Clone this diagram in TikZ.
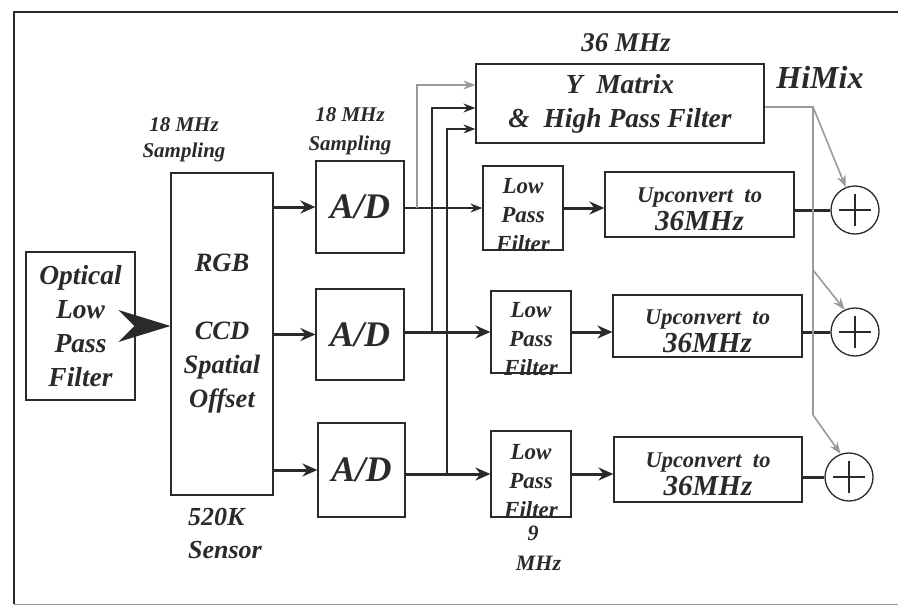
\documentclass[tikz,border=0pt]{standalone}
\usepackage{fontspec}
\setmainfont{Liberation Serif}
\usetikzlibrary{arrows.meta}
\definecolor{ink}{HTML}{2A2A2A}
\definecolor{grayline}{HTML}{9A9A9A}
\begin{document}
\begin{tikzpicture}[x=1pt,y=-1pt,
  every node/.style={text=ink},
  box/.style={draw=ink,line width=1.2pt,inner sep=0pt,align=center},
  bi/.style={font=\bfseries\itshape\fontsize{#1}{#1}\selectfont},
  thk/.style={draw=ink,line width=3pt},
  thn/.style={draw=ink,line width=1.5pt},
  gry/.style={draw=grayline,line width=1.6pt},
  tipL/.style={-{Stealth[length=15pt,width=13pt,inset=5pt]}},
  tipS/.style={-{Stealth[length=12pt,width=9pt,inset=4pt]}},
  sumnode/.style={circle,draw=ink,line width=1.3pt,minimum size=48pt,inner sep=0pt,
    path picture={\draw[ink,line width=2.4pt]
      ([xshift=-16pt]path picture bounding box.center) -- ([xshift=16pt]path picture bounding box.center)
      ([yshift=-16pt]path picture bounding box.center) -- ([yshift=16pt]path picture bounding box.center);}}
]
\useasboundingbox (0,0) rectangle (898,608);
% frame
\draw[ink,line width=1.2pt] (898,12) -- (14,12) -- (14,604);
\draw[grayline,line width=0.8pt] (14,604) -- (898,604);

% boxes
\node[box,minimum width=109pt,minimum height=148pt,
  font=\bfseries\itshape\fontsize{27.5}{34}\selectfont] (opt) at (80.5,326)
  {Optical\\Low\\Pass\\Filter};
\node[box,minimum width=102pt,minimum height=322pt,
  font=\bfseries\itshape\fontsize{26.5}{34}\selectfont] (rgb) at (222,334)
  {RGB\\[34pt]CCD\\Spatial\\Offset};
\node[box,minimum width=88pt,minimum height=92pt,bi=36] (ad1) at (360,207) {A/D};
\node[box,minimum width=88pt,minimum height=91pt,bi=36] (ad2) at (360,334.5) {A/D};
\node[box,minimum width=87pt,minimum height=94pt,bi=36] (ad3) at (361.5,470) {A/D};

\node[box,minimum width=288pt,minimum height=79pt,
  font=\bfseries\itshape\fontsize{27.5}{34}\selectfont] (ym) at (620,103.5)
  {Y\ \ Matrix\\\&\ \ High Pass Filter};

\node[box,minimum width=80pt,minimum height=84pt] (lpf1) at (523,208) {};
\node[box,minimum width=80pt,minimum height=82pt] (lpf2) at (531,332) {};
\node[box,minimum width=80pt,minimum height=86pt] (lpf3) at (531,474) {};
\foreach \n in {lpf1,lpf2,lpf3}
  \node[align=center,font=\bfseries\itshape\fontsize{23}{29}\selectfont] at ([yshift=-7pt]\n.center) {Low\\Pass\\Filter};

\node[box,minimum width=189pt,minimum height=65pt] (uc1) at (699.5,204.5) {};
\node[box,minimum width=189pt,minimum height=62pt] (uc2) at (707.5,326) {};
\node[box,minimum width=188pt,minimum height=65pt] (uc3) at (708,469.5) {};
\foreach \n in {uc1,uc2,uc3}
  \node[align=center,font=\bfseries\itshape] at ([yshift=-5pt]\n.center)
  {\fontsize{22.5}{22}\selectfont Upconvert\ \ to\\[3pt]\fontsize{29}{29}\selectfont 36MHz};

\node[sumnode] (s1) at (855,210) {};
\node[sumnode] (s2) at (855,332) {};
\node[sumnode] (s3) at (849,477) {};

% labels
\node[align=center,font=\bfseries\itshape\fontsize{21}{26}\selectfont] (l1) at (184,140) {18 MHz\\Sampling};
\node[align=center,font=\bfseries\itshape\fontsize{21}{29}\selectfont] (l2) at (350,131) {18 MHz\\Sampling};
\node[bi=27] (l3) at (626,43) {36 MHz};
\node[bi=32] (l4) at (820,77) {HiMix};
\node[align=left,font=\bfseries\itshape\fontsize{26}{33}\selectfont] (l5) at (225,533) {520K\\Sensor};
\node[align=center,font=\bfseries\itshape\fontsize{22}{30}\selectfont] (l6) at (533,548) {9\\\ \ MHz};

% optical -> rgb big arrow
\fill[ink] (rgb.west |- opt.east) -- ++(-52,-16) -- ++(16,16) -- ++(-16,16) -- cycle;

% rgb -> A/D
\draw[thk,tipL] (rgb.east |- ad1.west) -- (ad1.west);
\draw[thk,tipL] (rgb.east |- ad2.west) -- (ad2.west);
\draw[thk,tipL] (rgb.east |- ad3.west) -- (ad3.west);

% A/D -> LPF
\draw[thn,tipS] (ad1.east |- lpf1.west) -- (lpf1.west);
\draw[thk,tipL] (ad2.east |- lpf2.west) -- (lpf2.west);
\draw[thk,tipL] (ad3.east |- lpf3.west) -- (lpf3.west);

% taps to Y matrix
\coordinate (j1) at (417,208);
\coordinate (j2) at (432,332);
\coordinate (j3) at (447,474);
\draw[gry,tipS] (j1) |- ([yshift=18.5pt]ym.west);
\draw[thn,tipS] (j2) |- ([yshift=-4.5pt]ym.west);
\draw[thn,tipS] (j3) |- ([yshift=-25.5pt]ym.west);

% LPF -> UC
\draw[thk,tipL] (lpf1.east) -- (lpf1.east -| uc1.west);
\draw[thk,tipL] (lpf2.east) -- (lpf2.east -| uc2.west);
\draw[thk,tipL] (lpf3.east) -- (lpf3.east -| uc3.west);

% UC -> sums
\draw[thk] (uc1.east |- s1.west) -- (s1.west);
\draw[thk] (uc2.east |- s2.west) -- (s2.west);
\draw[thk] (uc3.east |- s3.west) -- (s3.west);

% HiMix gray distribution
\coordinate (h0) at (813,107);
\coordinate (h2) at (813,270);
\coordinate (h3) at (813,415);
\draw[gry] (ym.east |- h0) -- (h0) -- (h3);
\draw[gry,tipS] (h0) -- (s1.112);
\draw[gry,tipS] (h2) -- (s2.115);
\draw[gry,tipS] (h3) -- (s3.110);
\end{tikzpicture}
\end{document}
